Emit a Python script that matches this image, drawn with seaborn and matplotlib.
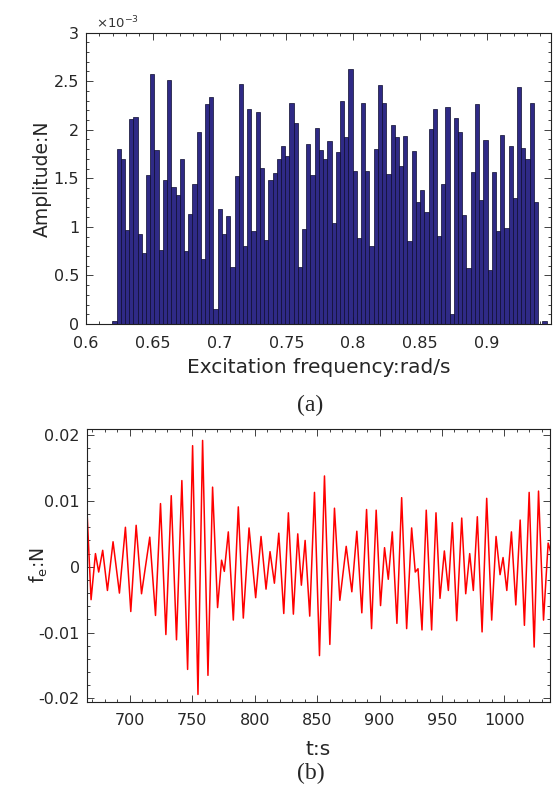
import numpy as np
import pandas as pd
import matplotlib
matplotlib.use("Agg")
import matplotlib.pyplot as plt
import seaborn as sns
from matplotlib.ticker import MultipleLocator, FuncFormatter

# ---------------- panel (a) data ----------------
freq_start = 0.6197      # left edge of first bar (rad/s)
freq_step = 0.003155     # bar spacing (rad/s)
amplitude_e3 = [
    0.03, 1.80, 1.70, 0.97, 2.11, 2.13, 0.93, 0.73, 1.53, 2.57,
    1.79, 0.76, 1.48, 2.51, 1.41, 1.33, 1.70, 0.75, 1.13, 1.44,
    1.98, 0.67, 2.26, 2.34, 0.15, 1.18, 0.93, 1.11, 0.59, 1.52,
    2.47, 0.80, 2.21, 0.96, 2.18, 1.61, 0.86, 1.48, 1.55, 1.70,
    1.83, 1.73, 2.27, 2.07, 0.59, 0.98, 1.85, 1.53, 2.02, 1.79,
    1.70, 1.88, 1.04, 1.77, 2.30, 1.93, 2.62, 1.58, 0.89, 2.27,
    1.58, 0.80, 1.80, 2.46, 2.27, 1.54, 2.05, 1.93, 1.63, 1.94,
    0.85, 1.78, 1.26, 1.38, 1.15, 2.01, 2.21, 0.91, 1.44, 2.23,
    0.10, 2.12, 1.98, 1.12, 0.58, 1.56, 2.26, 1.28, 1.89, 0.56,
    1.56, 0.96, 1.95, 0.99, 1.83, 1.30, 2.44, 1.81, 1.70, 2.27,
    1.26, 0.00, 0.03,
]  # amplitude in 1e-3 N

# ---------------- panel (b) data (extrema of f_e) ----------------
t_ext = [665.8, 669.0, 672.5, 675.1, 678.3, 682.1, 686.6, 691.7, 696.5, 700.8,
         705.1, 709.4, 716.0, 720.6, 724.6, 728.9, 733.2, 737.4, 741.7, 746.3,
         750.3, 754.6, 758.3, 762.6, 766.3, 770.3, 773.5, 775.7, 778.9, 782.9,
         786.9, 790.9, 795.5, 800.8, 805.1, 809.1, 812.3, 815.8, 819.3, 823.3,
         827.0, 831.0, 834.5, 837.4, 840.4, 844.1, 847.9, 851.9, 855.9, 860.2,
         863.9, 868.2, 873.3, 877.8, 881.8, 885.8, 889.6, 893.6, 897.3, 900.8,
         904.0, 907.0, 910.2, 913.9, 917.7, 921.7, 925.7, 928.6, 930.8, 934.0,
         937.4, 941.7, 945.2, 948.4, 951.9, 955.1, 958.3, 961.8, 965.8, 969.0,
         972.2, 975.1, 978.3, 982.1, 985.8, 989.8, 993.3, 996.5, 998.9, 1001.9,
         1005.6, 1009.1, 1012.6, 1016.0, 1019.8, 1023.8, 1027.3, 1031.3, 1035.0, 1037.4]
fe_ext = [0.0082, -0.0050, 0.0020, -0.0008, 0.0025, -0.0036, 0.0038, -0.0040, 0.0060, -0.0068,
          0.0063, -0.0041, 0.0045, -0.0074, 0.0096, -0.0103, 0.0108, -0.0111, 0.0131, -0.0156,
          0.0184, -0.0194, 0.0192, -0.0165, 0.0121, -0.0062, 0.0010, -0.0007, 0.0053, -0.0081,
          0.0091, -0.0078, 0.0059, -0.0047, 0.0046, -0.0034, 0.0023, -0.0025, 0.0051, -0.0071,
          0.0082, -0.0072, 0.0050, -0.0028, 0.0040, -0.0075, 0.0113, -0.0135, 0.0138, -0.0118,
          0.0089, -0.0051, 0.0031, -0.0038, 0.0054, -0.0070, 0.0087, -0.0094, 0.0086, -0.0059,
          0.0029, -0.0019, 0.0053, -0.0086, 0.0105, -0.0094, 0.0059, -0.0008, -0.0003, -0.0096,
          0.0086, -0.0096, 0.0082, -0.0048, 0.0024, -0.0036, 0.0067, -0.0082, 0.0074, -0.0041,
          0.0020, -0.0036, 0.0076, -0.0099, 0.0104, -0.0081, 0.0046, -0.0012, 0.0014, -0.0036,
          0.0053, -0.0058, 0.0071, -0.0089, 0.0113, -0.0122, 0.0115, -0.0081, 0.0036, 0.0020]

# ---------------- style ----------------
sns.set_theme(style="ticks")
plt.rcParams['font.family'] = ['DejaVu Sans']
plt.rcParams['mathtext.default'] = 'regular'
plt.rcParams['axes.linewidth'] = 0.8
plt.rcParams['axes.unicode_minus'] = False

TICK_FS = 11.5
XLAB_FS = 14.5
YLAB_FS = 13.5

fig = plt.figure(figsize=(5.54, 7.94), dpi=100)

# ---- panel (a) ----
n = len(amplitude_e3)
amp = np.array(amplitude_e3) * 1e-3
edges = freq_start + freq_step * np.arange(n + 1)
centers = (edges[:-1] + edges[1:]) / 2
df_a = pd.DataFrame({'freq': centers, 'amp': amp})

ax1 = fig.add_axes([0.1552, 0.5919, 0.8394, 0.3671])
sns.histplot(data=df_a, x='freq', weights='amp', bins=n,
             binrange=(edges[0], edges[-1]), ax=ax1,
             color='#2F2A86', edgecolor='#0C0B2E', linewidth=0.5, alpha=1.0)
ax1.set_xlim(0.6, 0.948)
ax1.set_ylim(0, 3e-3)
ax1.xaxis.set_major_locator(MultipleLocator(0.05))
ax1.xaxis.set_minor_locator(MultipleLocator(0.01))
ax1.yaxis.set_major_locator(MultipleLocator(0.5e-3))
ax1.yaxis.set_minor_locator(MultipleLocator(0.1e-3))
ax1.xaxis.set_major_formatter(FuncFormatter(lambda v, p: f'{round(v, 3):g}'))
ax1.yaxis.set_major_formatter(FuncFormatter(lambda v, p: f'{round(v*1e3, 3):g}'))
ax1.set_xlabel('Excitation frequency:rad/s', fontsize=XLAB_FS, labelpad=5)
ax1.set_ylabel('Amplitude:N', fontsize=YLAB_FS)
ax1.yaxis.set_label_coords(-0.074, 0.5)
ax1.text(0.021, 1.006, r'$\times10^{-3}$', transform=ax1.transAxes,
         ha='left', va='bottom', fontsize=9.5, color='#333333')

# ---- panel (b) ----
df_b = pd.DataFrame({'t': t_ext, 'fe': fe_ext})
ax2 = fig.add_axes([0.1565, 0.1163, 0.8363, 0.3431])
sns.lineplot(data=df_b, x='t', y='fe', ax=ax2, color='#FF0000', linewidth=1.1)
for ln in ax2.lines:
    ln.set_solid_joinstyle('round')
ax2.set_xlim(665.5, 1036.5)
ax2.set_ylim(-0.0205, 0.0209)
ax2.xaxis.set_major_locator(MultipleLocator(50))
ax2.xaxis.set_minor_locator(MultipleLocator(10))
ax2.yaxis.set_major_locator(MultipleLocator(0.01))
ax2.yaxis.set_minor_locator(MultipleLocator(0.002))
ax2.yaxis.set_major_formatter(FuncFormatter(lambda v, p: f'{round(v, 4):g}'))
ax2.set_xlabel('t:s', fontsize=XLAB_FS, labelpad=8)
ax2.set_ylabel(r'f$_{e}$:N', fontsize=YLAB_FS)
ax2.yaxis.set_label_coords(-0.080, 0.5)

for ax in (ax1, ax2):
    ax.tick_params(which='both', direction='in', top=True, right=True,
                   labelsize=TICK_FS, color='#222222', width=0.6, pad=5)
    ax.tick_params(axis='x', which='both', pad=8.5)
    ax.tick_params(which='major', length=5)
    ax.tick_params(which='minor', length=2.5)
    for s in ax.spines.values():
        s.set_color('#222222')

fig.text(310 / 554, 1 - 405 / 794, '(a)', family=['Liberation Serif', 'DejaVu Serif'],
         fontsize=17, ha='center', va='center')
fig.text(311 / 554, 1 - 773 / 794, '(b)', family=['Liberation Serif', 'DejaVu Serif'],
         fontsize=17, ha='center', va='center')

fig.savefig('out.png', dpi=100)
